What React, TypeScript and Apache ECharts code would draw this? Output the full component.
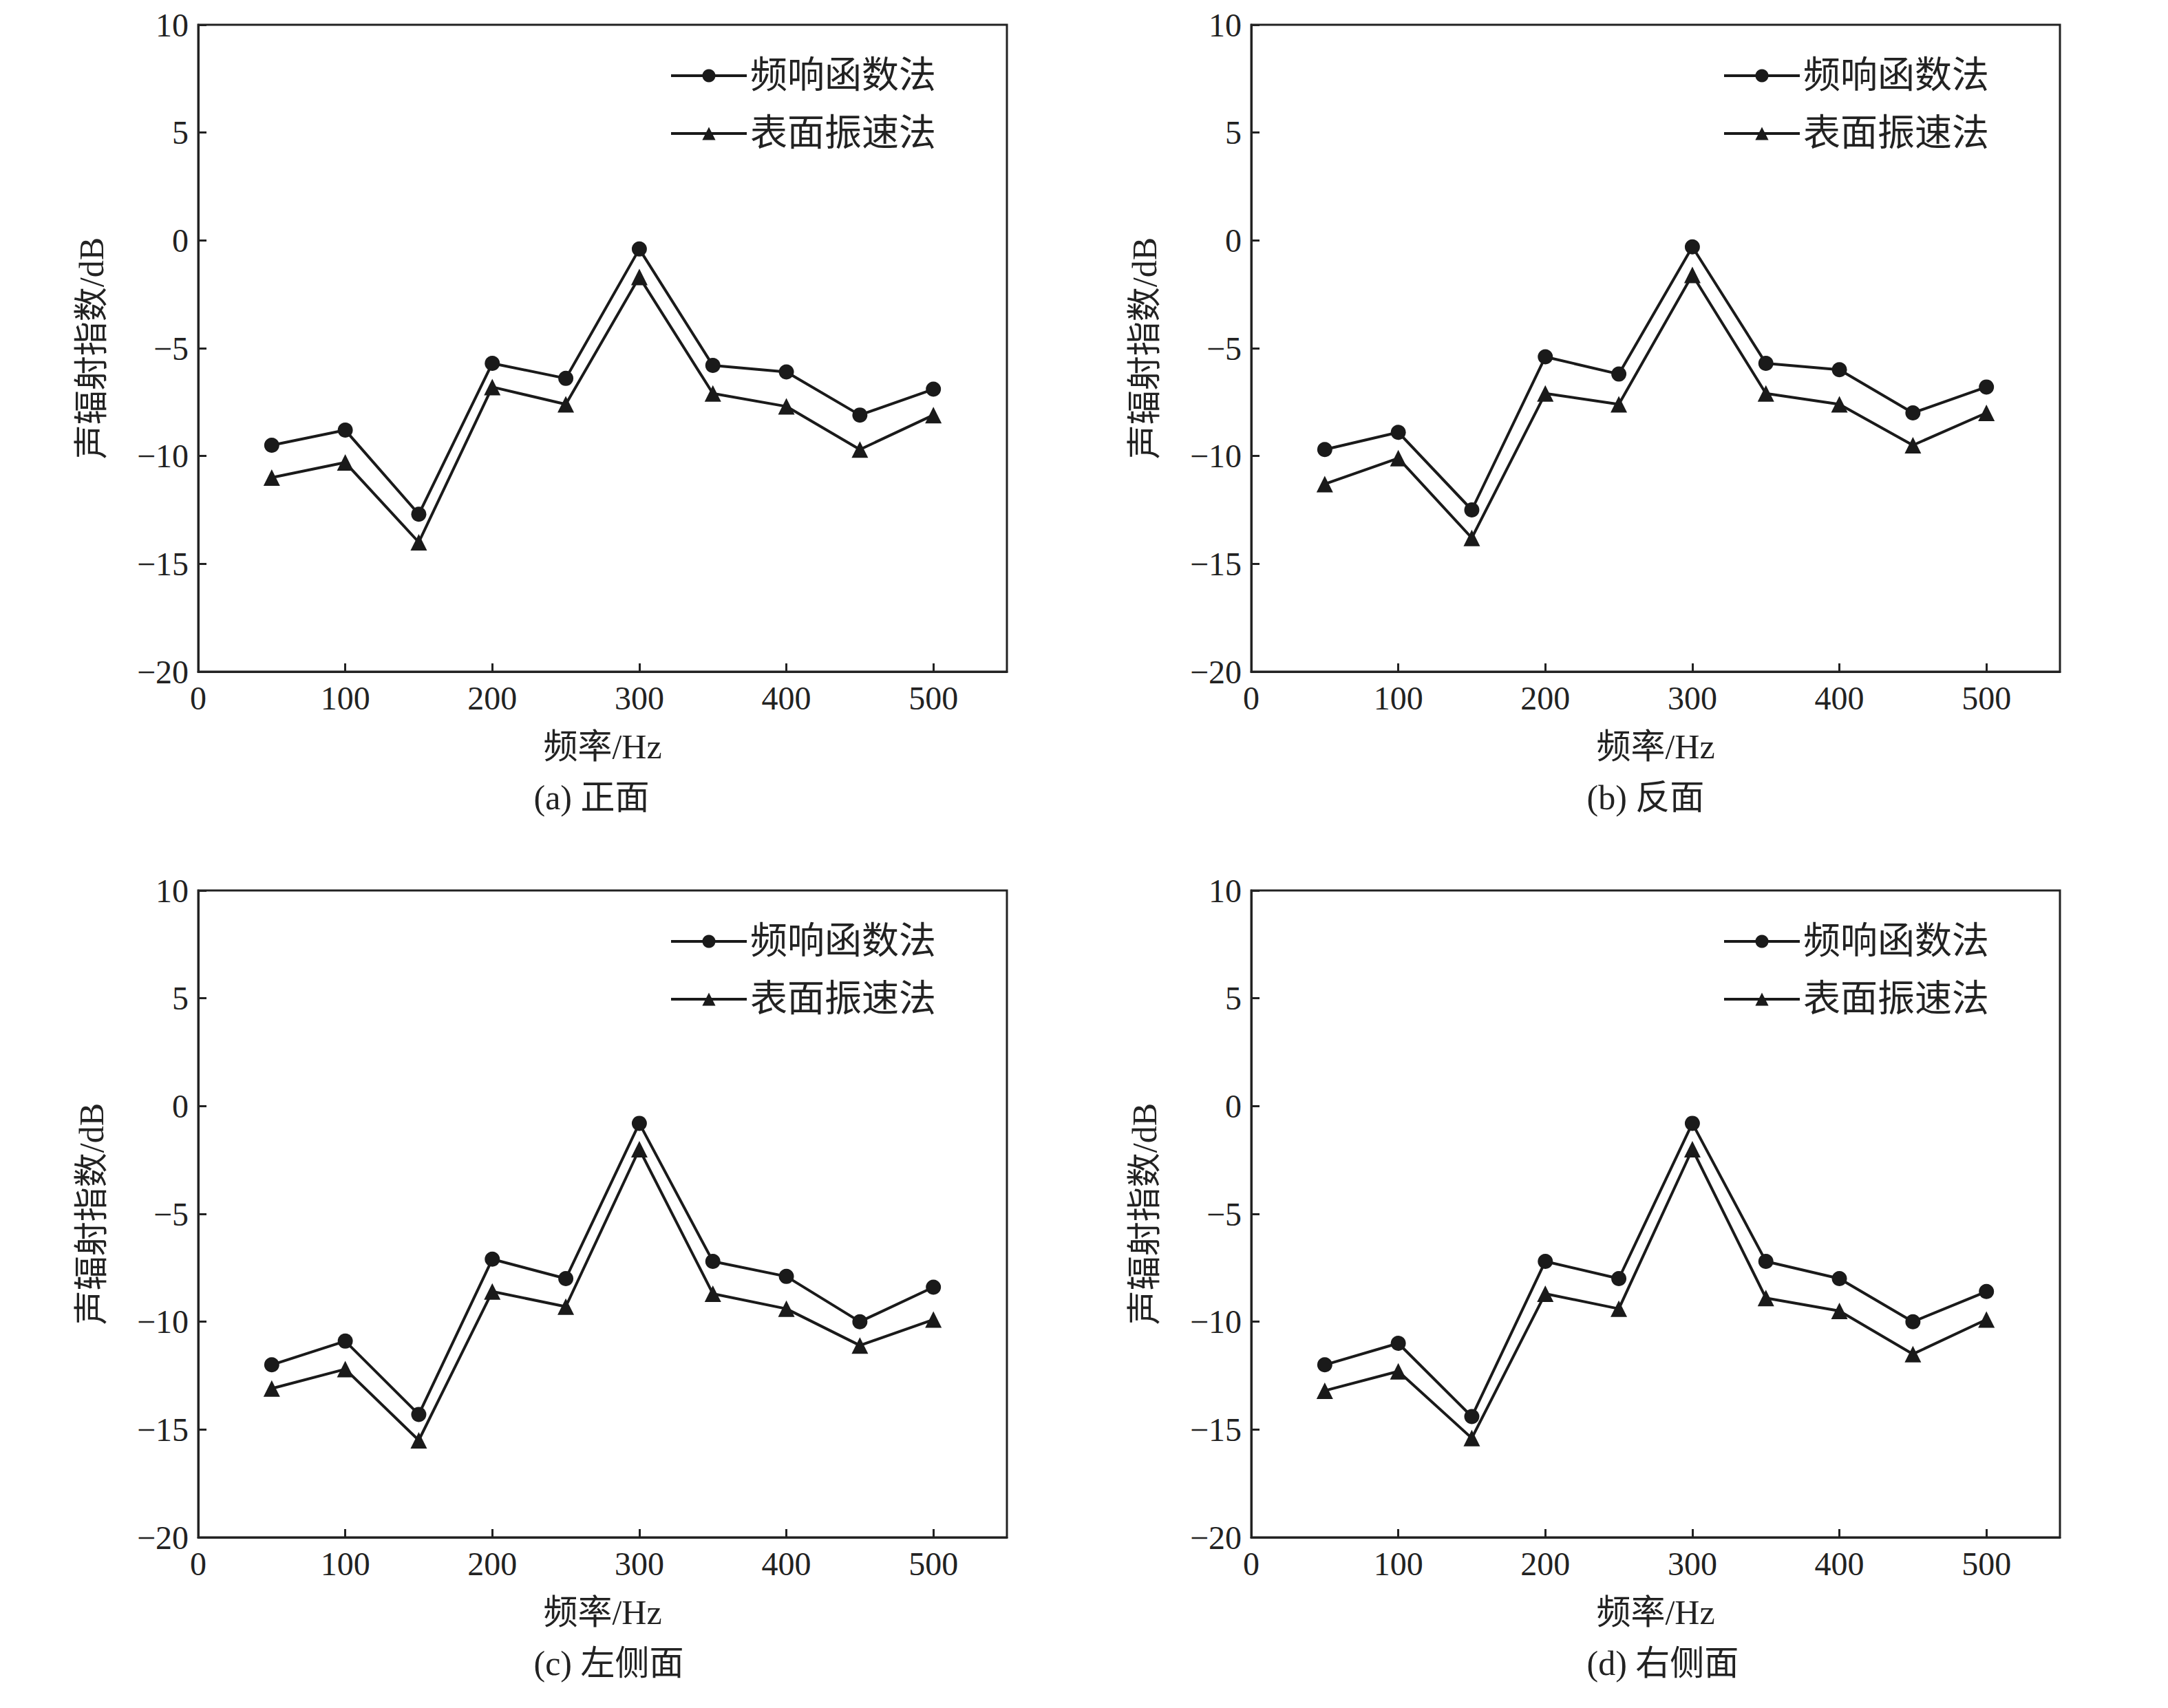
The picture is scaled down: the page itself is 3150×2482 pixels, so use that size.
import React, { useEffect, useRef } from 'react';
import * as echarts from 'echarts';

const freqs = [50, 100, 150, 200, 250, 300, 350, 400, 450, 500];
const seriesNames = ['频响函数法', '表面振速法'];
const captions = ['(a) 正面', '(b) 反面', '(c) 左侧面', '(d) 右侧面'];

const frfA = [-9.5, -8.8, -12.7, -5.7, -6.4, -0.4, -5.8, -6.1, -8.1, -6.9];
const surfA = [-11, -10.3, -14, -6.8, -7.6, -1.7, -7.1, -7.7, -9.7, -8.1];
const frfB = [-9.7, -8.9, -12.5, -5.4, -6.2, -0.3, -5.7, -6.0, -8.0, -6.8];
const surfB = [-11.3, -10.1, -13.8, -7.1, -7.6, -1.6, -7.1, -7.6, -9.5, -8.0];
const frfC = [-12, -10.9, -14.3, -7.1, -8, -0.8, -7.2, -7.9, -10, -8.4];
const surfC = [-13.1, -12.2, -15.5, -8.6, -9.3, -2, -8.7, -9.4, -11.1, -9.9];
const frfD = [-12, -11, -14.4, -7.2, -8, -0.8, -7.2, -8, -10, -8.6];
const surfD = [-13.2, -12.3, -15.4, -8.7, -9.4, -2, -8.9, -9.5, -11.5, -9.9];

const panels = [
  [frfA, surfA],
  [frfB, surfB],
  [frfC, surfC],
  [frfD, surfD],
];

const FONT = '"Liberation Serif", "Noto Sans CJK SC", serif';

const App: React.FC = () => {
  const chartRef = useRef<HTMLDivElement | null>(null);

  useEffect(() => {
    if (!chartRef.current) return;
    const chart = echarts.init(chartRef.current, undefined, { renderer: 'svg' });

    const lefts = [280, 1810];
    const tops = [28, 1286];
    const W = 1175;
    const H = 940;
    const grid: any[] = [];
    const xAxis: any[] = [];
    const yAxis: any[] = [];
    const series: any[] = [];
    const legend: any[] = [];
    const graphic: any[] = [];

    panels.forEach((pair, i) => {
      const left = lefts[i % 2];
      const top = tops[Math.floor(i / 2)];
      grid.push({ left, top, width: W, height: H, show: true, borderColor: '#222', borderWidth: 3 });
      const axisCommon = {
        gridIndex: i,
        axisLine: { onZero: false, lineStyle: { color: '#222', width: 3 } },
        axisTick: { inside: true, length: 12, lineStyle: { color: '#222', width: 3 } },
        splitLine: { show: false },
        nameLocation: 'middle',
        nameTextStyle: { fontFamily: FONT, fontSize: 50, color: '#222' },
      };
      xAxis.push({
        ...axisCommon,
        type: 'value',
        min: 0,
        max: 550,
        interval: 100,
        name: '频率/Hz',
        nameGap: 84,
        axisLabel: { fontFamily: FONT, fontSize: 48, color: '#222', margin: 14, showMaxLabel: false },
      });
      yAxis.push({
        ...axisCommon,
        type: 'value',
        min: -20,
        max: 10,
        interval: 5,
        name: '声辐射指数/dB',
        nameGap: 130,
        axisLabel: {
          fontFamily: FONT,
          fontSize: 48,
          color: '#222',
          margin: 14,
          formatter: (v: number) => (v < 0 ? '\u2212' + Math.abs(v) : String(v)),
        },
      });
      pair.forEach((vals, k) => {
        series.push({
          name: seriesNames[k],
          type: 'line',
          xAxisIndex: i,
          yAxisIndex: i,
          data: freqs.map((f, j) => [f, vals[j]]),
          symbol: k === 0 ? 'circle' : 'triangle',
          symbolSize: k === 0 ? 22 : 24,
          lineStyle: { color: '#1a1a1a', width: 4 },
          itemStyle: { color: '#1a1a1a' },
        });
      });
      legend.push({
        data: seriesNames.map((n) => ({ name: n })),
        orient: 'vertical',
        left: left + 680,
        top: top + 42,
        itemWidth: 110,
        itemHeight: 24,
        itemGap: 30,
        lineStyle: { width: 4 },
        textStyle: { fontFamily: FONT, fontSize: 54, color: '#222' },
        selectedMode: false,
      });
      graphic.push({
        type: 'text',
        left: left + W / 2 - 100,
        top: top + H + 158,
        style: { text: captions[i], font: `50px ${FONT}`, fill: '#222' },
      });
    });

    chart.setOption({
      animation: false,
      backgroundColor: '#fff',
      grid,
      xAxis,
      yAxis,
      series,
      legend,
      graphic,
    });
    return () => chart.dispose();
  }, []);

  return <div ref={chartRef} style={{ width: '3134px', height: '2466px' }} />;
};

export default App;
